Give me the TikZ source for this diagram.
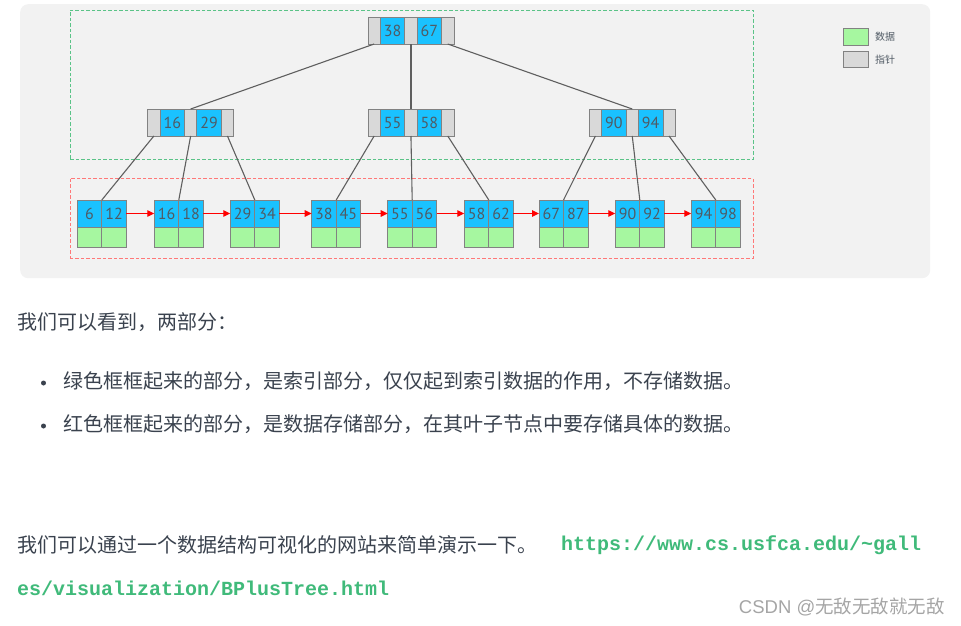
\documentclass[tikz,border=0pt]{standalone}
\usepackage{fontspec}
\setmainfont{Noto Sans CJK SC}
\setmonofont{Liberation Mono}
\newfontfamily\numfont{PT Sans}
\newfontfamily\markfont{Liberation Sans}
\usepackage{xcolor}
\usepackage{tikz}
\usetikzlibrary{arrows.meta, positioning}

\definecolor{keyblue}{RGB}{26,194,255}
\definecolor{ptrgray}{RGB}{217,217,217}
\definecolor{datagreen}{RGB}{166,247,160}
\definecolor{cellline}{RGB}{130,130,130}
\definecolor{edgegray}{RGB}{95,95,95}
\definecolor{numtext}{RGB}{80,90,100}
\definecolor{panelgray}{RGB}{242,242,242}
\definecolor{idxgreen}{RGB}{90,195,135}
\definecolor{leafred}{RGB}{255,120,120}
\definecolor{bodytext}{RGB}{58,66,78}
\definecolor{urlgreen}{RGB}{64,186,122}
\definecolor{markgray}{RGB}{165,165,165}

\begin{document}
\begin{tikzpicture}[x=1pt, y=-1pt,
    panel/.style={rectangle, fill=panelgray, rounded corners=8pt, minimum width=910pt, minimum height=274pt, anchor=north west, inner sep=0pt},
    frame/.style={rectangle, draw, line width=0.9pt, dash pattern=on 3.5pt off 2pt, minimum width=683pt, anchor=north west, inner sep=0pt},
    ptr/.style={rectangle, draw=cellline, fill=ptrgray, line width=0.8pt, minimum width=12.3pt, minimum height=27pt, inner sep=0pt, outer sep=0pt},
    key/.style={rectangle, draw=cellline, fill=keyblue, line width=0.8pt, minimum width=24.5pt, minimum height=27pt, inner sep=0pt, outer sep=0pt, font=\numfont\fontsize{16}{16}\selectfont, text=numtext},
    data/.style={rectangle, draw=cellline, fill=datagreen, line width=0.8pt, minimum width=24.5pt, minimum height=20pt, inner sep=0pt, outer sep=0pt},
    link/.style={draw=edgegray, line width=1.1pt},
    next/.style={draw=red, line width=1.3pt, -{Triangle[length=7pt, width=6.5pt]}},
    legend/.style={font=\fontsize{10}{10}\selectfont, text=numtext, inner sep=0pt},
    bodyline/.style={font=\fontsize{20}{24}\selectfont, text=bodytext, inner sep=0pt, anchor=west},
    urlline/.style={font=\ttfamily\bfseries\fontsize{20}{24}\selectfont, text=urlgreen, inner sep=0pt, anchor=west},
    dot/.style={circle, fill=bodytext, minimum size=5pt, inner sep=0pt}
]
\useasboundingbox (0,0) rectangle (961,625);

\node[panel] (bg) at (20,4) {};
\node[frame, draw=idxgreen, minimum height=149.5pt] (idx) at (70,9.5) {};
\node[frame, draw=leafred, minimum height=80pt] (leaf) at (69.5,178) {};

% root
\node[ptr, anchor=north west] (rp0) at (368,17) {};
\node[key, right=0pt of rp0] (rk0) {38};
\node[ptr, right=0pt of rk0] (rp1) {};
\node[key, right=0pt of rp1] (rk1) {67};
\node[ptr, right=0pt of rk1] (rp2) {};

% second level
\node[ptr, anchor=north west] (ap0) at (147.7,109) {};
\node[key, right=0pt of ap0] (ak0) {16};
\node[ptr, right=0pt of ak0] (ap1) {};
\node[key, right=0pt of ap1] (ak1) {29};
\node[ptr, right=0pt of ak1] (ap2) {};

\node[ptr, anchor=north west] (bp0) at (368,109) {};
\node[key, right=0pt of bp0] (bk0) {55};
\node[ptr, right=0pt of bk0] (bp1) {};
\node[key, right=0pt of bp1] (bk1) {58};
\node[ptr, right=0pt of bk1] (bp2) {};

\node[ptr, anchor=north west] (cp0) at (589.3,109) {};
\node[key, right=0pt of cp0] (ck0) {90};
\node[ptr, right=0pt of ck0] (cp1) {};
\node[key, right=0pt of cp1] (ck1) {94};
\node[ptr, right=0pt of ck1] (cp2) {};

% leaves
\node[key, anchor=north west] (l1a) at (77.3,200) {6};
\node[key, right=0pt of l1a] (l1b) {12};
\node[data, below=0pt of l1a] (l1c) {};
\node[data, below=0pt of l1b] (l1d) {};

\node[key, anchor=north west] (l2a) at (154.3,200) {16};
\node[key, right=0pt of l2a] (l2b) {18};
\node[data, below=0pt of l2a] (l2c) {};
\node[data, below=0pt of l2b] (l2d) {};

\node[key, anchor=north west] (l3a) at (230.3,200) {29};
\node[key, right=0pt of l3a] (l3b) {34};
\node[data, below=0pt of l3a] (l3c) {};
\node[data, below=0pt of l3b] (l3d) {};

\node[key, anchor=north west] (l4a) at (311.7,200) {38};
\node[key, right=0pt of l4a] (l4b) {45};
\node[data, below=0pt of l4a] (l4c) {};
\node[data, below=0pt of l4b] (l4d) {};

\node[key, anchor=north west] (l5a) at (387.7,200) {55};
\node[key, right=0pt of l5a] (l5b) {56};
\node[data, below=0pt of l5a] (l5c) {};
\node[data, below=0pt of l5b] (l5d) {};

\node[key, anchor=north west] (l6a) at (464.3,200) {58};
\node[key, right=0pt of l6a] (l6b) {62};
\node[data, below=0pt of l6a] (l6c) {};
\node[data, below=0pt of l6b] (l6d) {};

\node[key, anchor=north west] (l7a) at (539,200) {67};
\node[key, right=0pt of l7a] (l7b) {87};
\node[data, below=0pt of l7a] (l7c) {};
\node[data, below=0pt of l7b] (l7d) {};

\node[key, anchor=north west] (l8a) at (615.3,200) {90};
\node[key, right=0pt of l8a] (l8b) {92};
\node[data, below=0pt of l8a] (l8c) {};
\node[data, below=0pt of l8b] (l8d) {};

\node[key, anchor=north west] (l9a) at (691.3,200) {94};
\node[key, right=0pt of l9a] (l9b) {98};
\node[data, below=0pt of l9a] (l9c) {};
\node[data, below=0pt of l9b] (l9d) {};

% legend
\node[data, minimum width=24.7pt, minimum height=16.7pt, anchor=north west] (lgd) at (843.3,28.3) {};
\node[legend, right=7pt of lgd] (lgdt) {数据};
\node[ptr, minimum width=24.7pt, minimum height=16.7pt, anchor=north west] (lgp) at (843.3,51) {};
\node[legend, right=7pt of lgp] (lgpt) {指针};

\draw[link] (rp0.south) -- (ap1.north);
\draw[link] (rp1.south) -- (bp1.north);
\draw[link] (rp2.south) -- (cp1.north);
\draw[link] (ap0.south) -- (l1a.north east);
\draw[link] (ap1.south) -- (l2a.north east);
\draw[link] (ap2.south) -- (l3a.north east);
\draw[link] (bp0.south) -- (l4a.north east);
\draw[link] (bp1.south) -- (l5a.north east);
\draw[link] (bp2.south) -- (l6a.north east);
\draw[link] (cp0.south) -- (l7a.north east);
\draw[link] (cp1.south) -- (l8a.north east);
\draw[link] (cp2.south) -- (l9a.north east);

\draw[next] (l1b.east) -- (l2a.west);
\draw[next] (l2b.east) -- (l3a.west);
\draw[next] (l3b.east) -- (l4a.west);
\draw[next] (l4b.east) -- (l5a.west);
\draw[next] (l5b.east) -- (l6a.west);
\draw[next] (l6b.east) -- (l7a.west);
\draw[next] (l7b.east) -- (l8a.west);
\draw[next] (l8b.east) -- (l9a.west);

% text below
\node[bodyline] (intro) at (17,322) {我们可以看到，两部分：};
\node[dot] (b1) at (43.5,383) {};
\node[bodyline] (item1) at (63,381) {绿色框框起来的部分，是索引部分，仅仅起到索引数据的作用，不存储数据。};
\node[dot] (b2) at (43.5,426) {};
\node[bodyline] (item2) at (63,424) {红色框框起来的部分，是数据存储部分，在其叶子节点中要存储具体的数据。};
\node[bodyline] (demo) at (17,545) {我们可以通过一个数据结构可视化的网站来简单演示一下。};
\node[urlline] (url1) at (561,545) {https://www.cs.usfca.edu/\textasciitilde gall};
\node[urlline] (url2) at (17,588) {es/visualization/BPlusTree.html};
\node[font=\fontsize{18.5}{18.5}\selectfont, text=markgray, inner sep=0pt, anchor=east] (mark) at (945,607) {{\markfont CSDN @}无敌无敌就无敌};

\end{tikzpicture}
\end{document}
